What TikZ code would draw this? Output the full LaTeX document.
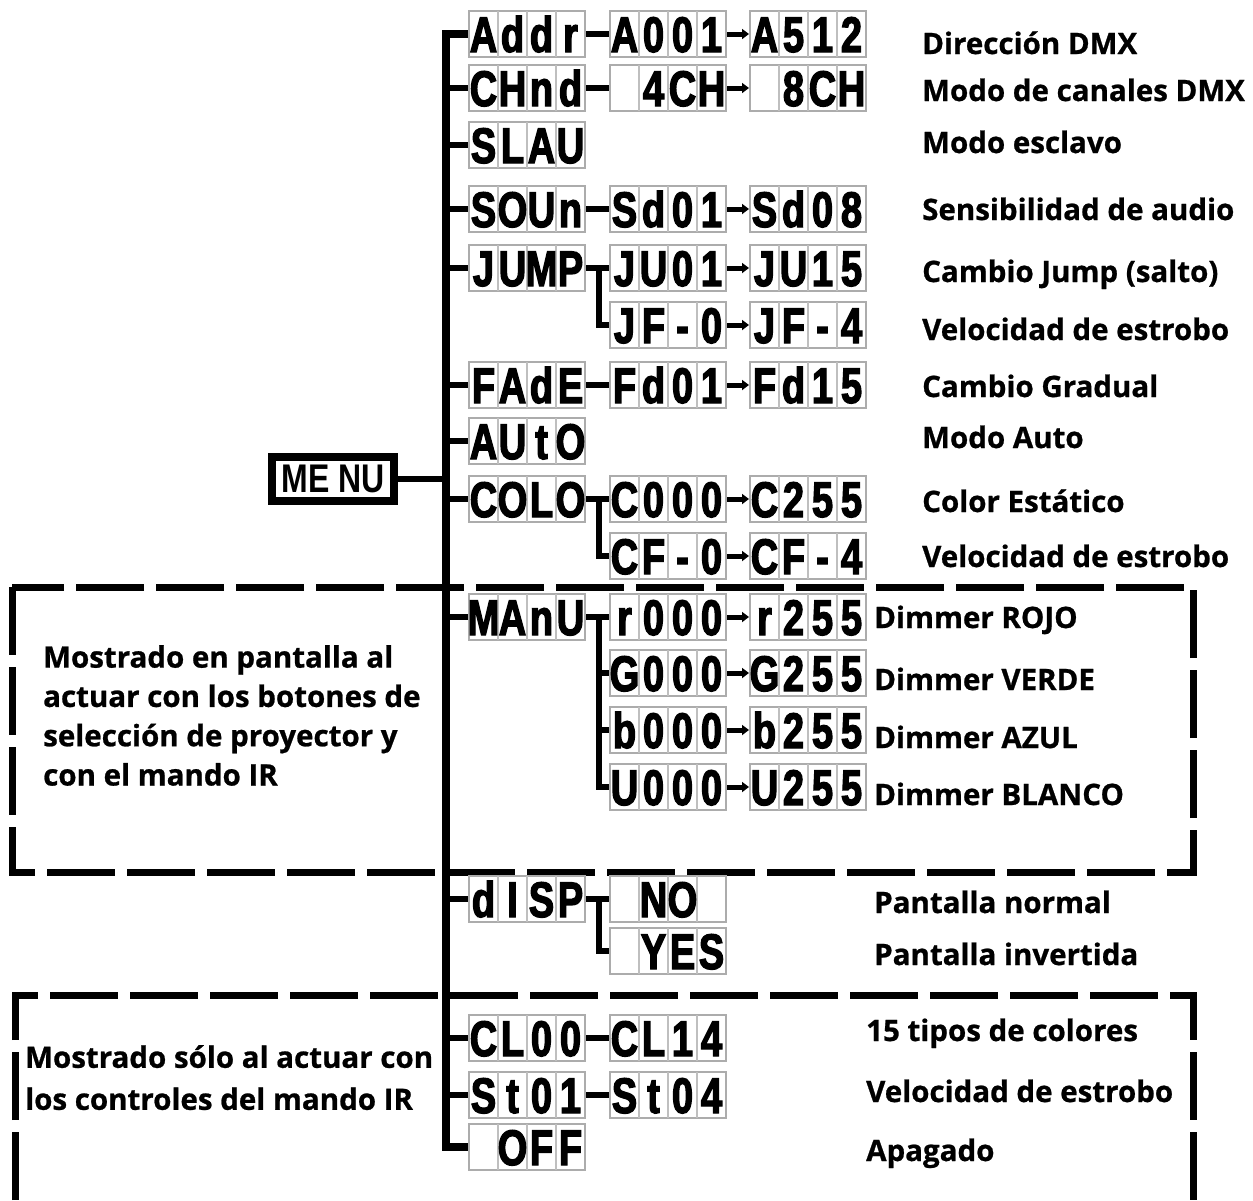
\documentclass[tikz,border=0pt]{standalone}
\usepackage{fontspec}
\newfontfamily\lcdf[FakeStretch=0.76,FakeBold=2.5]{Liberation Sans}
\newfontfamily\menuf[FakeStretch=0.8]{Liberation Sans}
\newfontfamily\lblf[FakeBold=0.8]{Open Sans}
\usetikzlibrary{arrows.meta,calc}
\tikzset{
  trunk/.style={line width=8pt},
  conn/.style={line width=6pt},
  connar/.style={line width=5pt,-{Triangle[length=7pt,width=10pt]}},
  lcdframe/.style={draw=gray!65,line width=2pt,minimum width=116pt,minimum height=46pt,inner sep=0pt},
  cellsep/.style={draw=gray!50,line width=1.6pt},
  lcdchar/.style={anchor=base,inner sep=0pt,font=\lcdf\bfseries\fontsize{50}{50}\selectfont},
  lbl/.style={anchor=base west,inner sep=0pt,font=\lblf\bfseries\fontsize{29.5}{34}\selectfont},
  note/.style={anchor=north west,inner sep=0pt,align=left,font=\lblf\bfseries\fontsize{29.5}{39.3}\selectfont},
  dashbox/.style={line width=7pt,dash pattern=on 68pt off 12pt},
  menubox/.style={draw,line width=8pt,minimum width=122pt,minimum height=44pt,inner sep=0pt,font=\menuf\bfseries\fontsize{40}{40}\selectfont},
}
% name, left x, centre y, four characters
\newcommand\lcdbox[7]{%
  \node[lcdframe] (#1) at (#2+58,#3) {};
  \draw[cellsep] (#2+29,#3-23) -- (#2+29,#3+23) (#2+58,#3-23) -- (#2+58,#3+23) (#2+87,#3-23) -- (#2+87,#3+23);
  \node[lcdchar] (#1-a) at (#2+14.5,#3+18) {#4};
  \node[lcdchar] (#1-b) at (#2+43.5,#3+18) {#5};
  \node[lcdchar] (#1-c) at (#2+72.5,#3+18) {#6};
  \node[lcdchar] (#1-d) at (#2+101.5,#3+18) {#7};
}
\begin{document}
\begin{tikzpicture}[x=1pt,y=-1pt]
\useasboundingbox[fill=white] (0,0) rectangle (1253,1200);

% dashed frames
\draw[dashbox] (12,587) rectangle (1193,872);
\draw[dashbox] (15,1200) -- (15,995) -- (1193,995) -- (1193,1200);

% menu
\node[menubox] (menu) at (333,479) {ME NU};

% column 1
\lcdbox{addr}{469}{34}{A}{d}{d}{r}
\lcdbox{chnd}{469}{88}{C}{H}{n}{d}
\lcdbox{slau}{469}{145}{S}{L}{A}{U}
\lcdbox{soun}{469}{209}{S}{O}{U}{n}
\lcdbox{jump}{469}{268}{J}{U}{M}{P}
\lcdbox{fade}{469}{385}{F}{A}{d}{E}
\lcdbox{auto}{469}{441}{A}{U}{t}{O}
\lcdbox{colo}{469}{499}{C}{O}{L}{O}
\lcdbox{manu}{469}{617}{M}{A}{n}{U}
\lcdbox{disp}{469}{899}{d}{I}{S}{P}
\lcdbox{cl00}{469}{1038}{C}{L}{0}{0}
\lcdbox{st01}{469}{1095}{S}{t}{0}{1}
\lcdbox{off}{469}{1147}{}{O}{F}{F}

% column 2
\lcdbox{a001}{610}{34}{A}{0}{0}{1}
\lcdbox{ch4}{610}{88}{}{4}{C}{H}
\lcdbox{sd01}{610}{209}{S}{d}{0}{1}
\lcdbox{ju01}{610}{268}{J}{U}{0}{1}
\lcdbox{jf0}{610}{325}{J}{F}{-}{0}
\lcdbox{fd01}{610}{385}{F}{d}{0}{1}
\lcdbox{c000}{610}{499}{C}{0}{0}{0}
\lcdbox{cf0}{610}{556}{C}{F}{-}{0}
\lcdbox{r000}{610}{617}{r}{0}{0}{0}
\lcdbox{g000}{610}{673}{G}{0}{0}{0}
\lcdbox{b000}{610}{730}{b}{0}{0}{0}
\lcdbox{u000}{610}{787}{U}{0}{0}{0}
\lcdbox{no}{610}{899}{}{N}{O}{}
\lcdbox{yes}{610}{951}{}{Y}{E}{S}
\lcdbox{cl14}{610}{1038}{C}{L}{1}{4}
\lcdbox{st04}{610}{1095}{S}{t}{0}{4}

% column 3
\lcdbox{a512}{750}{34}{A}{5}{1}{2}
\lcdbox{ch8}{750}{88}{}{8}{C}{H}
\lcdbox{sd08}{750}{209}{S}{d}{0}{8}
\lcdbox{ju15}{750}{268}{J}{U}{1}{5}
\lcdbox{jf4}{750}{325}{J}{F}{-}{4}
\lcdbox{fd15}{750}{385}{F}{d}{1}{5}
\lcdbox{c255}{750}{499}{C}{2}{5}{5}
\lcdbox{cf4}{750}{556}{C}{F}{-}{4}
\lcdbox{r255}{750}{617}{r}{2}{5}{5}
\lcdbox{g255}{750}{673}{G}{2}{5}{5}
\lcdbox{b255}{750}{730}{b}{2}{5}{5}
\lcdbox{u255}{750}{787}{U}{2}{5}{5}

% trunk
\coordinate (ttop) at (446,34);
\coordinate (tbot) at (446,1147);
\draw[trunk] (addr.west) -- (ttop) -- (tbot) -- (off.west);
\draw[conn] (menu.east) -- (menu.east -| ttop);
\foreach \n in {chnd,slau,soun,jump,fade,auto,colo,manu,disp,cl00,st01}
  \draw[conn] (\n.west -| ttop) -- (\n.west);

% column 1 -> column 2
\foreach \a/\b in {addr/a001,chnd/ch4,soun/sd01,jump/ju01,fade/fd01,colo/c000,manu/r000,disp/no,cl00/cl14,st01/st04}
  \draw[conn] (\a.east) -- (\b.west);
\draw[conn] (jump.east) ++(13,0) |- (jf0.west);
\draw[conn] (colo.east) ++(13,0) |- (cf0.west);
\draw[conn] (manu.east) ++(13,0) |- (u000.west);
\draw[conn] (manu.east) ++(13,0) |- (g000.west);
\draw[conn] (manu.east) ++(13,0) |- (b000.west);
\draw[conn] (disp.east) ++(13,0) |- (yes.west);

% column 2 -> column 3
\foreach \a/\b in {a001/a512,ch4/ch8,sd01/sd08,ju01/ju15,jf0/jf4,fd01/fd15,c000/c255,cf0/cf4,r000/r255,g000/g255,b000/b255,u000/u255}
  \draw[connar] (\a.east) -- (\b.west);

% labels
\node[lbl] (l1) at (922,54) {Dirección DMX};
\node[lbl] (l2) at (922,101) {Modo de canales DMX};
\node[lbl] (l3) at (922,153) {Modo esclavo};
\node[lbl] (l4) at (922,220) {Sensibilidad de audio};
\node[lbl] (l5) at (922,282) {Cambio Jump (salto)};
\node[lbl] (l6) at (922,340) {Velocidad de estrobo};
\node[lbl] (l7) at (922,397) {Cambio Gradual};
\node[lbl] (l8) at (922,448) {Modo Auto};
\node[lbl] (l9) at (922,512) {Color Estático};
\node[lbl] (l10) at (922,567) {Velocidad de estrobo};
\node[lbl] (l11) at (874,628) {Dimmer ROJO};
\node[lbl] (l12) at (874,690) {Dimmer VERDE};
\node[lbl] (l13) at (874,748) {Dimmer AZUL};
\node[lbl] (l14) at (874,805) {Dimmer BLANCO};
\node[lbl] (l15) at (874,913) {Pantalla normal};
\node[lbl] (l16) at (874,965) {Pantalla invertida};
\node[lbl] (l17) at (866,1041) {15 tipos de colores};
\node[lbl] (l18) at (866,1102) {Velocidad de estrobo};
\node[lbl] (l19) at (866,1161) {Apagado};

% notes
\node[note] (n1) at (43,645) {Mostrado en pantalla al\\actuar con los botones de\\selección de proyector y\\con el mando IR};
\node[note,font=\lblf\bfseries\fontsize{29.5}{42}\selectfont] (n2) at (25,1045) {Mostrado sólo al actuar con\\los controles del mando IR};
\end{tikzpicture}
\end{document}
